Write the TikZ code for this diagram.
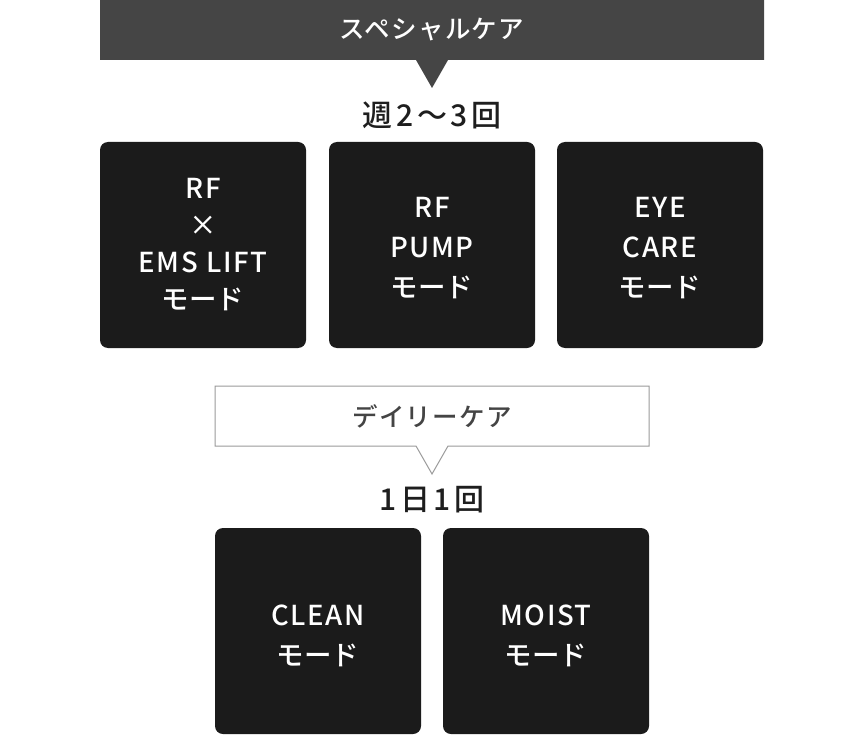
\documentclass[tikz,border=0pt]{standalone}
\usepackage{fontspec}
\setmainfont{Noto Sans CJK JP Medium}
\definecolor{bannergray}{HTML}{454545}
\definecolor{boxblack}{HTML}{1B1B1B}
\definecolor{linegray}{HTML}{9A9A9A}
\definecolor{textdark}{HTML}{1E1E1E}
\definecolor{textgray}{HTML}{444444}
\newcommand{\latinline}[1]{{\addfontfeature{LetterSpace=6}#1}}
\begin{document}
\begin{tikzpicture}[x=1pt,y=-1pt,
  modebox/.style={fill=boxblack,rounded corners=8pt,minimum width=206pt,minimum height=206pt,inner sep=0pt},
  modetext/.style={text=white,align=center,inner sep=0pt,
    font=\fontsize{27.5}{#1}\selectfont},
  modetext/.default=40,
  headtext/.style={font=\fontsize{25.5}{30}\selectfont\addfontfeature{LetterSpace=5},inner sep=0pt},
  freqtext/.style={font=\fontsize{30}{32}\selectfont\addfontfeature{LetterSpace=12},text=textdark,inner sep=0pt}]
\useasboundingbox (0,0) rectangle (864,735);
% special care banner
\fill[bannergray] (100,0) -- (764,0) -- (764,60) -- (448,60) -- (432,88) -- (416,60) -- (100,60) -- cycle;
\node[headtext,text=white] (special) at (432,30) {スペシャルケア};
\node[freqtext] (weekly) at (432,115) {週2〜3回};
\node[modebox] (rfems) at (203,245) {};
\node[modebox] (rfpump) at (432,245) {};
\node[modebox] (eyecare) at (660,245) {};
\node[modetext=37] (rfemstext) at ([yshift=0pt]rfems.center) {\latinline{RF}\\×\\\latinline{EMS LIFT}\\モード};
\node[modetext] (rfpumptext) at ([yshift=-3.5pt]rfpump.center) {\latinline{RF}\\\latinline{PUMP}\\モード};
\node[modetext] (eyecaretext) at ([yshift=-3.5pt]eyecare.center) {\latinline{EYE}\\\latinline{CARE}\\モード};
% daily care banner
\draw[linegray,line width=1pt,fill=white] (215,386) -- (649,386) -- (649,446) -- (448,446) -- (432,474) -- (416,446) -- (215,446) -- cycle;
\node[headtext,text=textgray] (daily) at (432,416) {デイリーケア};
\node[freqtext] (perday) at (432,500) {1日1回};
\node[modebox] (clean) at (318,631) {};
\node[modebox] (moist) at (546,631) {};
\node[modetext] (cleantext) at ([yshift=-4.5pt]clean.center) {\latinline{CLEAN}\\モード};
\node[modetext] (moisttext) at ([yshift=-4.5pt]moist.center) {\latinline{MOIST}\\モード};
\end{tikzpicture}
\end{document}
